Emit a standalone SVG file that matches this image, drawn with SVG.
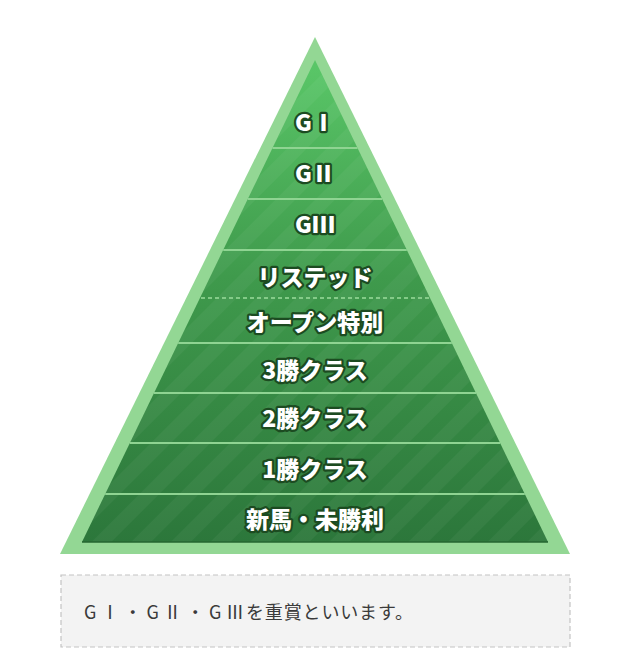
<svg xmlns="http://www.w3.org/2000/svg" width="640" height="667" viewBox="0 0 640 667">
  <style>
    .band { stroke: none; }
    .sep { stroke: #8fd492; stroke-width: 2; fill: none; }
    .sep-dash { stroke: #9adb9c; stroke-width: 1.5; stroke-dasharray: 4 3; fill: none; }
    .lbl { font-family: "Noto Sans CJK JP", "Noto Sans", sans-serif; font-weight: 900; font-size: 23px; fill: #ffffff; stroke: #1c4b21; stroke-width: 4.5px; stroke-linejoin: round; paint-order: stroke fill; text-anchor: middle; }
    .note { font-family: "Noto Sans CJK JP", "Noto Sans", sans-serif; font-size: 18px; fill: #3a3a3a; }
  </style>
  <defs>
    <linearGradient id="g" gradientUnits="userSpaceOnUse" x1="0" y1="60" x2="0" y2="542">
      <stop offset="0" stop-color="#5ac768"/>
      <stop offset="0.45" stop-color="#3f9a4c"/>
      <stop offset="1" stop-color="#2c773b"/>
    </linearGradient>
    <pattern id="stripes" patternUnits="userSpaceOnUse" width="28" height="28" patternTransform="rotate(45)">
      <rect x="0" y="0" width="14" height="28" fill="#ffffff" fill-opacity="0.045"/>
    </pattern>
  </defs>

  <g id="pyramid-frame">
    <polygon points="315,37 570,554 60,554" fill="#93d794"/>
    <polygon points="315,60 548,542 82,542" fill="url(#g)"/>
    <polygon points="315,60 548,542 82,542" fill="url(#stripes)"/>
    <line x1="82" y1="542" x2="548" y2="542" stroke="#246630" stroke-width="1.5"/>
  </g>

  <g id="separators">
    <line class="sep" x1="272.5" y1="148" x2="357.5" y2="148"/>
    <line class="sep" x1="247.8" y1="199" x2="382.2" y2="199"/>
    <line class="sep" x1="223.2" y1="250" x2="406.8" y2="250"/>
    <line class="sep-dash" x1="201" y1="298" x2="429" y2="298"/>
    <line class="sep" x1="178.2" y1="343" x2="451.8" y2="343"/>
    <line class="sep" x1="154" y1="393" x2="476" y2="393"/>
    <line class="sep" x1="129.9" y1="443" x2="500.1" y2="443"/>
    <line class="sep" x1="105.2" y1="494" x2="524.8" y2="494"/>
  </g>

  <g id="g1"><text class="lbl" x="315" y="131">GⅠ</text></g>
  <g id="g2"><text class="lbl" x="315" y="182">GⅡ</text></g>
  <g id="g3"><text class="lbl" x="315" y="233">GⅢ</text></g>
  <g id="listed"><text class="lbl" x="315" y="286">リステッド</text></g>
  <g id="open"><text class="lbl" x="315" y="331">オープン特別</text></g>
  <g id="win3"><text class="lbl" x="315" y="379">3勝クラス</text></g>
  <g id="win2"><text class="lbl" x="315" y="427">2勝クラス</text></g>
  <g id="win1"><text class="lbl" x="315" y="478">1勝クラス</text></g>
  <g id="maiden"><text class="lbl" x="315" y="528">新馬・未勝利</text></g>

  <g id="note">
    <rect x="61" y="575" width="509" height="72" fill="#f3f3f3" stroke="#c4c4c4" stroke-width="1.2" stroke-dasharray="5 3"/>
    <text class="note" x="84" y="619"><tspan textLength="160" lengthAdjust="spacing">GⅠ・GⅡ・GⅢ</tspan><tspan x="246" textLength="167" lengthAdjust="spacing">を重賞といいます。</tspan></text>
  </g>
</svg>
